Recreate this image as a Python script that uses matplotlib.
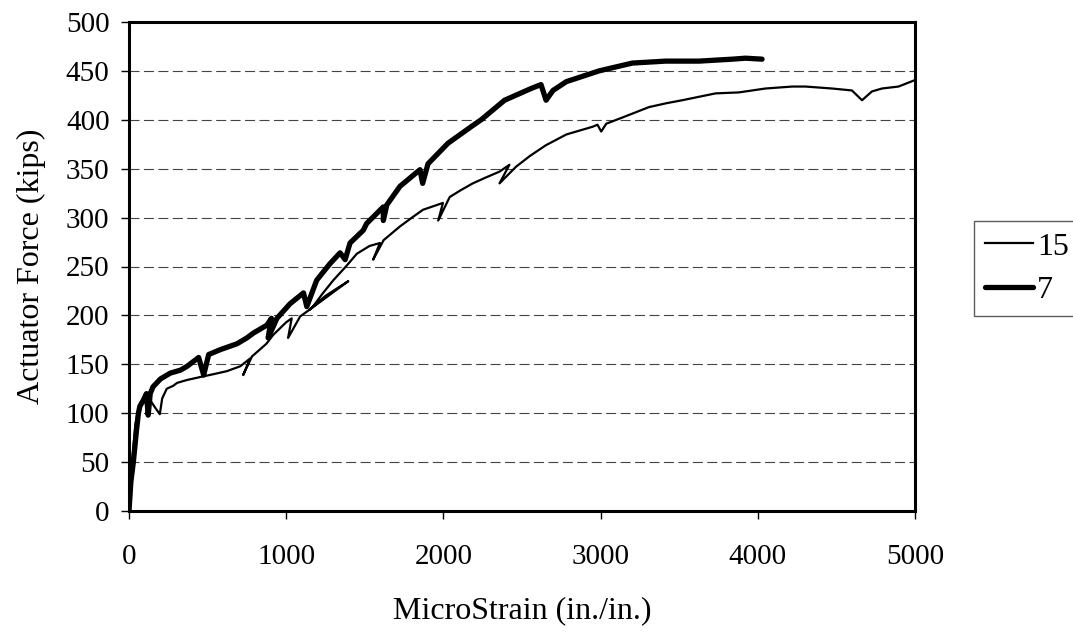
import numpy as np
import matplotlib
matplotlib.use("Agg")
import matplotlib.pyplot as plt

# Series "15" (thin) -- microstrain vs actuator force
s15_x = [0, 12, 25, 40, 60, 90, 132, 165, 196, 211, 240, 281, 306, 370, 454, 540,
         623, 708, 771, 726, 782, 874, 917, 1000, 1035, 1012, 1089, 1150, 1250,
         1395, 1150, 1170, 1230, 1300, 1380, 1449, 1530, 1596, 1553, 1620, 1724,
         1800, 1870, 1997, 1967, 2040, 2110, 2187, 2270, 2357, 2420, 2357, 2462,
         2550, 2652, 2782, 2951, 2980, 3004, 3036, 3117, 3181, 3308, 3420, 3519,
         3731, 3879, 4049, 4219, 4303, 4472, 4599, 4663, 4726, 4790, 4895, 4990]
s15_y = [0, 35, 60, 88, 105, 112, 114, 106, 99, 115, 125, 128, 131, 134, 137, 140,
         143, 148, 156, 139, 158, 171, 180, 193, 197, 177, 199, 206, 220,
         235, 206, 209, 222, 236, 250, 263, 271, 274, 257, 277, 291,
         300, 308, 315, 297, 321, 328, 335, 341, 347, 354, 335, 352,
         363, 374, 385, 393, 395, 388, 396, 401, 405, 413, 417, 420,
         427, 428, 432, 434, 434, 432, 430, 420, 429, 432, 434, 440]

# Series "7" (thick)
s7_x = [0, 12, 27, 40, 48, 60, 69, 90, 111, 122, 135, 153, 200, 263, 327, 370,
        443, 475, 507, 581, 687, 750, 792, 877, 906, 885, 941, 1025, 1110, 1131,
        1194, 1279, 1343, 1375, 1406, 1490, 1512, 1618, 1618, 1640, 1724, 1851,
        1868, 1902, 2029, 2177, 2240, 2389, 2558, 2621, 2653, 2697, 2782, 2990,
        3202, 3414, 3626, 3838, 3922, 4027]
s7_y = [0, 30, 49, 70, 83, 100, 107, 113, 120, 98, 120, 127, 135, 141, 144, 148,
        157, 139, 160, 165, 171, 177, 182, 190, 197, 177, 197, 212, 223, 209,
        236, 253, 264, 257, 274, 287, 294, 311, 297, 313, 332, 349,
        335, 355, 376, 393, 400, 420, 432, 436, 420, 430, 439, 450,
        458, 460, 460, 462, 463, 462]

x_ticks = [0, 1000, 2000, 3000, 4000, 5000]
y_ticks = list(range(0, 501, 50))
legend_labels = ["15", "7"]

plt.rcParams['font.family'] = ['Liberation Serif', 'DejaVu Serif']

fig = plt.figure(figsize=(10.73, 6.38), dpi=100)
ax = fig.add_axes([129/1073, 1 - 511/638, (915 - 129)/1073, (511 - 22)/638])

l15, = ax.plot(s15_x, s15_y, color='black', lw=1.6, solid_joinstyle='round')
l7, = ax.plot(s7_x, s7_y, color='black', lw=3.8, solid_joinstyle='round',
              solid_capstyle='round')

ax.set_xlim(0, 5000)
ax.set_ylim(0, 500)
ax.set_xticks(x_ticks)
ax.set_yticks(y_ticks)
ax.yaxis.grid(True, color='#444444', lw=0.8, linestyle=(0, (9, 4)))
ax.set_axisbelow(True)

for sp in ax.spines.values():
    sp.set_linewidth(2.2)
    sp.set_color('black')

ax.tick_params(axis='both', direction='out', length=6, width=1, labelsize=21,
               colors='black')
ax.tick_params(axis='x', pad=18)
ax.tick_params(axis='y', pad=8)

ax.set_xlabel("MicroStrain (in./in.)", fontsize=23)
ax.set_ylabel("Actuator Force (kips)", fontsize=23)
ax.xaxis.set_label_coords(0.5, (511 - 596) / 489)
ax.yaxis.set_label_coords((46 - 129) / 786, 0.5)

leg = fig.legend([l15, l7], legend_labels, loc='upper left',
                 bbox_to_anchor=(974/1073, 1 - 221/638), fontsize=23,
                 frameon=True, fancybox=False, handlelength=1.5,
                 handletextpad=0.12, borderpad=0.35, labelspacing=0.45,
                 borderaxespad=0)
leg.get_frame().set_edgecolor('#333333')
leg.get_frame().set_linewidth(1.0)

fig.savefig("out.png", dpi=100, facecolor='white')
